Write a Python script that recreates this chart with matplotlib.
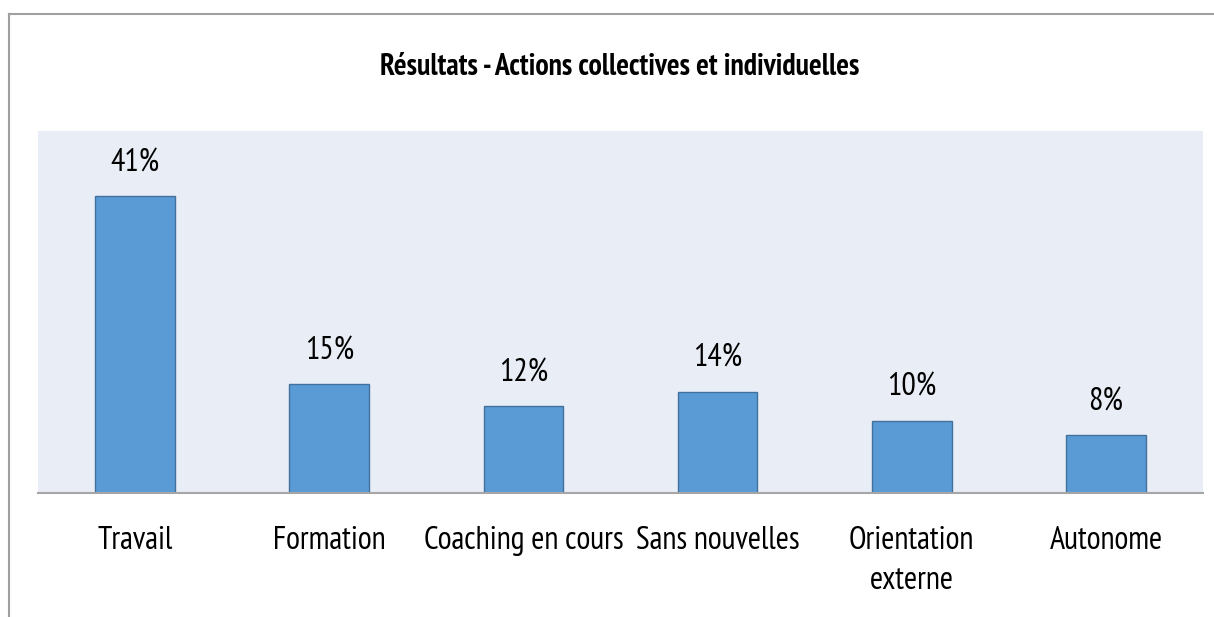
import matplotlib
matplotlib.use("Agg")
import matplotlib.pyplot as plt
from matplotlib.lines import Line2D

categories = ["Travail", "Formation", "Coaching en cours", "Sans nouvelles", "Orientation\nexterne", "Autonome"]
values = [41, 15, 12, 14, 10, 8]
value_labels = ["41%", "15%", "12%", "14%", "10%", "8%"]
title = "Résultats - Actions collectives et individuelles"

plt.rcParams["font.family"] = ["PT Sans Narrow", "DejaVu Sans"]

fig = plt.figure(figsize=(12.14, 6.17), dpi=100)
ax = fig.add_axes([38/1214, 1-493/617, (1203-38)/1214, (493-131)/617])
ax.set_facecolor("#E9EDF5")
x = range(len(categories))
ax.bar(x, values, width=0.41, color="#5B9BD5", edgecolor="#41719C", linewidth=1.0, zorder=2)
for xi, v, lab in zip(x, values, value_labels):
    ax.annotate(lab, (xi, v), xytext=(0, 18), textcoords="offset points",
                ha="center", va="baseline", fontsize=23, color="#000000")
ax.set_xlim(-0.5, len(categories) - 0.5)
ax.set_ylim(0, 50)
ax.set_yticks([])
ax.set_xticks(list(x))
ax.set_xticklabels(categories, fontsize=23, linespacing=1.42, va="top")
ax.tick_params(axis="x", length=0, pad=24)
for s in ["top", "right", "left"]:
    ax.spines[s].set_visible(False)
ax.spines["bottom"].set_color("#A6A6A6")
ax.spines["bottom"].set_linewidth(1.5)

fig.text(620/1214, 1-75/617, title, ha="center", va="baseline", fontsize=21.5, fontweight="bold")

# outer border (top and left)
fig.add_artist(Line2D([9/1214, 1.0], [1-14/617, 1-14/617], color="#A0A0A0", linewidth=1.5, transform=fig.transFigure))
fig.add_artist(Line2D([9/1214, 9/1214], [0, 1-14/617], color="#A0A0A0", linewidth=1.5, transform=fig.transFigure))

fig.savefig("out.png", dpi=100)
